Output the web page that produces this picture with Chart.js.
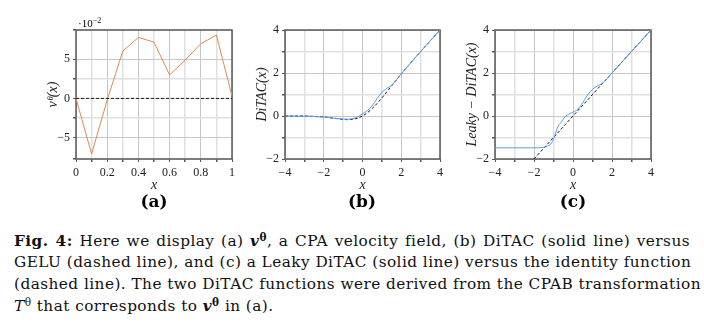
<!DOCTYPE html>
<html>
<head>
<meta charset="utf-8">
<script src="https://cdn.jsdelivr.net/npm/chart.js@4.4.1/dist/chart.umd.min.js"></script>
<style>
  body { margin: 0; background: #fff; width: 704px; height: 324px; overflow: hidden; position: relative; font-family: "Liberation Serif", serif; }
  canvas { position: absolute; top: 0; }
  .lab { position: absolute; font-family: "DejaVu Serif", serif; font-weight: bold; font-size: 17px; transform: translate(-50%, -50%); }
  .exp { position: absolute; left: 78px; top: 17px; font-size: 11px; }
  .exp sup { font-size: 8px; }
  .cap { position: absolute; left: 14px; width: 676px; font-family: "DejaVu Serif", serif; font-size: 15.3px; letter-spacing: 0.45px; line-height: 20px; text-align: justify; text-align-last: justify; white-space: nowrap; color: #111; }
  .cap.last { text-align-last: left; }
  .cap sup, .exp sup { position: relative; top: -0.45em; vertical-align: baseline; line-height: 0; }
  .cap sup { font-size: 10.5px; }
</style>
</head>
<body>
<canvas id="chartA" width="208" height="195" style="left:36px"></canvas>
<canvas id="chartB" width="207" height="195" style="left:245px"></canvas>
<canvas id="chartC" width="208" height="195" style="left:455px"></canvas>

<div class="exp">·10<sup>−2</sup></div>
<div class="lab" style="left:154px; top:201px">(a)</div>
<div class="lab" style="left:362px; top:201px">(b)</div>
<div class="lab" style="left:573px; top:201px">(c)</div>

<div class="cap" style="top:231px"><b>Fig. 4:</b> Here we display (a) <b><i>v</i><sup>θ</sup></b>, a CPA velocity field, (b) DiTAC (solid line) versus</div>
<div class="cap" style="top:252px">GELU (dashed line), and (c) a Leaky DiTAC (solid line) versus the identity function</div>
<div class="cap" style="top:274px">(dashed line). The two DiTAC functions were derived from the CPAB transformation</div>
<div class="cap last" style="top:296px"><i>T</i><sup>θ</sup> that corresponds to <b><i>v</i><sup>θ</sup></b> in (a).</div>

<script>
// (a) velocity field, values in units of 1e-2
const velX = [0, 0.1, 0.2, 0.3, 0.4, 0.5, 0.6, 0.7, 0.8, 0.9, 1.0];
const velY = [0, -7.1, -0.2, 6.05, 7.8, 7.2, 3.0, 4.9, 7.0, 8.1, 0.3];
const zeroX = [0, 1];
const zeroY = [0, 0];
const velXTicks = [0, 0.2, 0.4, 0.6, 0.8, 1];
const velYTicks = [-5, 0, 5];

// (b) DiTAC vs GELU
const geluX = [-4, -3.5, -3, -2.5, -2, -1.5, -1, -0.75, -0.5, -0.25, 0, 0.25, 0.5, 0.75, 1, 1.25, 1.5, 2, 2.5, 3, 3.5, 4];
const geluY = [-0.0001, -0.0008, -0.004, -0.016, -0.045, -0.1, -0.159, -0.17, -0.154, -0.1, 0, 0.15, 0.346, 0.58, 0.841, 1.118, 1.4, 1.955, 2.484, 2.996, 3.499, 4.0];
const ditacX = [-4, -3.5, -3, -2.5, -2, -1.5, -1, -0.75, -0.5, -0.25, 0, 0.25, 0.5, 0.75, 1, 1.25, 1.5, 2, 2.5, 3, 3.5, 4];
const ditacY = [0, -0.005, -0.01, -0.025, -0.05, -0.1, -0.14, -0.15, -0.12, -0.04, 0.1, 0.25, 0.48, 0.8, 1.1, 1.28, 1.43, 1.96, 2.48, 3.0, 3.5, 4.0];

// (c) Leaky DiTAC vs identity
const identX = [-2, 4];
const identY = [-2, 4];
const leakyX = [-4, -3, -2, -1.5, -1.3, -1.1, -0.95, -0.8, -0.6, -0.4, -0.2, 0, 0.25, 0.5, 0.75, 1, 1.25, 1.5, 2, 3, 4];
const leakyY = [-1.48, -1.48, -1.48, -1.46, -1.4, -1.26, -0.95, -0.55, -0.28, -0.03, 0.1, 0.18, 0.32, 0.62, 0.98, 1.24, 1.4, 1.52, 2, 3, 4];
const actTicks = [-4, -2, 0, 2, 4];

const ORANGE = '#de8a52';
const BLUE = '#5b9de8';
const DASH = '#1a1a2a';
const SERIF = "'Liberation Serif', serif";

function pts(xs, ys){
    return xs.map((x, i) => ({x: x, y: ys[i]}));
}

function fmt(v){
    let s = String(Math.round(v * 100) / 100);
    return s.replace('-', '\u2212');
}

function isIn(list, v){
    return list.some(t => Math.abs(t - v) < 1e-6);
}

const framePlugin = {
    id: 'frame',
    beforeDatasetsDraw(chart){
        const a = chart.chartArea;
        const ctx = chart.ctx;
        ctx.save();
        ctx.strokeStyle = '#5a5a5a';
        ctx.lineWidth = 1.5;
        ctx.strokeRect(a.left, a.top, a.right - a.left, a.bottom - a.top);
        ctx.restore();
    }
};

function makeChart(id, datasets, sx, sy, yTitle){
    const ctx = document.getElementById(id).getContext('2d');
    const tickFont = {family: SERIF, size: 12};
    const titleFont = {family: SERIF, size: 14, style: 'italic', lineHeight: 14 / 14};
    return new Chart(ctx, {
        type: 'line',
        data: { datasets: datasets },
        plugins: [framePlugin],
        options: {
            responsive: false,
            animation: false,
            events: [],
            layout: { padding: { left: 10, right: 12, top: 30, bottom: 3 } },
            plugins: { legend: { display: false }, tooltip: { enabled: false } },
            elements: { point: { radius: 0 } },
            scales: {
                x: {
                    type: 'linear',
                    min: sx.min, max: sx.max,
                    afterFit(scale){ scale.height = 33; },
                    border: { display: false },
                    grid: {
                        color: c => isIn(sx.labels, c.tick.value) ? '#c6c6c6' : '#e0e0e0',
                        lineWidth: c => isIn(sx.labels, c.tick.value) ? 1 : 1.5,
                        tickLength: 3,
                        tickColor: '#555'
                    },
                    ticks: {
                        stepSize: sx.step,
                        autoSkip: false,
                        maxRotation: 0,
                        padding: 4,
                        color: '#222',
                        font: tickFont,
                        callback: v => isIn(sx.labels, v) ? fmt(v) : ''
                    },
                    title: { display: true, text: 'x', color: '#222', font: titleFont, padding: 0 }
                },
                y: {
                    type: 'linear',
                    min: sy.min, max: sy.max,
                    afterFit(scale){ scale.width = 30; },
                    border: { display: false },
                    grid: {
                        color: c => isIn(sy.labels, c.tick.value) ? '#c6c6c6' : '#e0e0e0',
                        lineWidth: c => isIn(sy.labels, c.tick.value) ? 1 : 1.5,
                        tickLength: 3,
                        tickColor: '#555'
                    },
                    ticks: {
                        stepSize: sy.step,
                        autoSkip: false,
                        padding: 3,
                        color: '#222',
                        font: tickFont,
                        callback: v => isIn(sy.labels, v) ? fmt(v) : ''
                    },
                    title: { display: true, text: yTitle, color: '#222', font: titleFont, padding: 0 }
                }
            }
        }
    });
}

function solid(xs, ys, color){
    return { data: pts(xs, ys), borderColor: color, borderWidth: 1, fill: false, cubicInterpolationMode: 'monotone' };
}

function dashed(xs, ys){
    return { data: pts(xs, ys), borderColor: DASH, borderWidth: 1, borderDash: [3, 2], fill: false, cubicInterpolationMode: 'monotone' };
}

let chartA = makeChart('chartA',
    [ dashed(zeroX, zeroY), { data: pts(velX, velY), borderColor: ORANGE, borderWidth: 1, fill: false, tension: 0 } ],
    { min: 0, max: 1, step: 0.1, labels: velXTicks },
    { min: -7.75, max: 8.75, step: 2.5, labels: velYTicks },
    'v\u1DBF(x)');

let chartB = makeChart('chartB',
    [ solid(ditacX, ditacY, BLUE), dashed(geluX, geluY) ],
    { min: -4, max: 4, step: 1, labels: actTicks },
    { min: -2, max: 4, step: 1, labels: actTicks },
    'DiTAC(x)');

let chartC = makeChart('chartC',
    [ solid(leakyX, leakyY, BLUE), dashed(identX, identY) ],
    { min: -4, max: 4, step: 1, labels: actTicks },
    { min: -2, max: 4, step: 1, labels: actTicks },
    'Leaky \u2212 DiTAC(x)');
</script>
</body>
</html>
